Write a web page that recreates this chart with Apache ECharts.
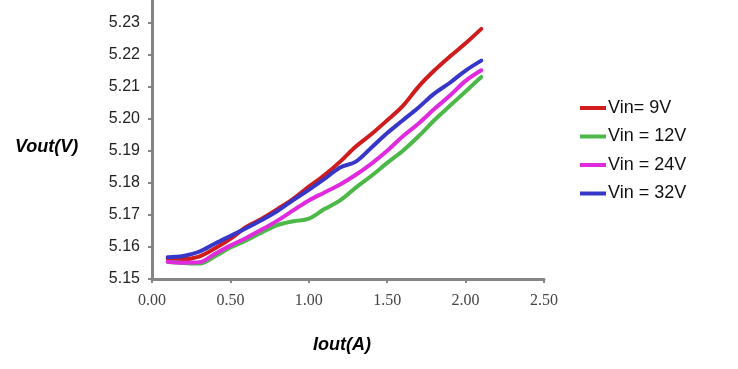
<!DOCTYPE html>
<html>
<head>
<meta charset="utf-8">
<script src="https://cdn.jsdelivr.net/npm/echarts@6/dist/echarts.min.js"></script>
<style>
html,body{margin:0;padding:0;background:#fff;}
#c{width:738px;height:369px;}
</style>
</head>
<body>
<div id="c"></div>
<script>
const iout = [0.1,0.2,0.3,0.4,0.5,0.6,0.7,0.8,0.9,1.0,1.1,1.2,1.3,1.4,1.5,1.6,1.7,1.8,1.9,2.0,2.1];
const vin9  = [5.1562,5.1562,5.1570,5.1595,5.1625,5.1662,5.1688,5.1718,5.1750,5.1788,5.1824,5.1866,5.1913,5.1952,5.1995,5.2040,5.2100,5.2150,5.2194,5.2235,5.2280];
const vin12 = [5.1553,5.1550,5.1548,5.1570,5.1598,5.1620,5.1645,5.1668,5.1680,5.1688,5.1718,5.1745,5.1785,5.1822,5.1862,5.1900,5.1945,5.1995,5.2040,5.2085,5.2130];
const vin24 = [5.1554,5.1551,5.1552,5.1578,5.1604,5.1628,5.1654,5.1682,5.1714,5.1745,5.1770,5.1795,5.1825,5.1860,5.1900,5.1945,5.1985,5.2030,5.2072,5.2118,5.2151];
const vin32 = [5.1568,5.1572,5.1585,5.1610,5.1634,5.1658,5.1684,5.1712,5.1746,5.1778,5.1812,5.1848,5.1866,5.1910,5.1955,5.1995,5.2035,5.2078,5.2112,5.2150,5.2181];
const seriesNames = ['Vin= 9V','Vin = 12V','Vin = 24V','Vin = 32V'];
const seriesData = [vin9, vin12, vin24, vin32];
const colors = ['#d01c1c','#4cb848','#e02ade','#3636c8'];

const chart = echarts.init(document.getElementById('c'), null, {renderer:'canvas'});
const pair = (ys) => ys.map((y,i)=>[iout[i], y]);

chart.setOption({
  animation:false,
  backgroundColor:'#ffffff',
  grid:{left:152, right:194, top:-9.6, bottom:90, containLabel:false, outerBoundsMode:'none'},
  xAxis:{
    type:'value', min:0, max:2.5, interval:0.5,
    axisLine:{show:true, lineStyle:{color:'#858585', width:3}},
    axisTick:{show:true, length:4, lineStyle:{color:'#858585', width:2}},
    axisLabel:{margin:14, color:'#444', fontFamily:'Liberation Serif', fontSize:16,
      formatter:(v)=>v.toFixed(2)},
    splitLine:{show:false}
  },
  yAxis:{
    type:'value', min:5.15, max:5.24, interval:0.01,
    axisLine:{show:true, lineStyle:{color:'#858585', width:3}},
    axisTick:{show:true, length:4, lineStyle:{color:'#858585', width:2}},
    axisLabel:{margin:12, color:'#222', fontFamily:'Liberation Sans', fontSize:16,
      formatter:(v)=>v.toFixed(2)},
    splitLine:{show:false}
  },
  legend:{
    orient:'vertical', left:575, top:93,
    icon:'rect', itemWidth:26, itemHeight:4, itemGap:8.5,
    textStyle:{fontFamily:'Liberation Sans', fontSize:18, color:'#111', lineHeight:20, padding:[0,0,0,-3]},
    data:seriesNames
  },
  graphic:[
    {type:'text', left:15, top:138, style:{text:'Vout(V)', font:'italic bold 18px "Liberation Sans"', fill:'#000',
      shadowColor:'rgba(0,0,0,0.55)', shadowBlur:3, shadowOffsetX:2, shadowOffsetY:2}},
    {type:'text', left:313, top:336, style:{text:'Iout(A)', font:'italic bold 18px "Liberation Sans"', fill:'#000',
      shadowColor:'rgba(0,0,0,0.55)', shadowBlur:3, shadowOffsetX:2, shadowOffsetY:2}}
  ],
  series: seriesNames.map((n,i)=>({
    name:n, type:'line', data:pair(seriesData[i]), smooth:0.35, showSymbol:false, symbol:'none',
    lineStyle:{color:colors[i], width:4, cap:'round', join:'round'},
    itemStyle:{color:colors[i]}, z:2+i
  }))
});
</script>
</body>
</html>
